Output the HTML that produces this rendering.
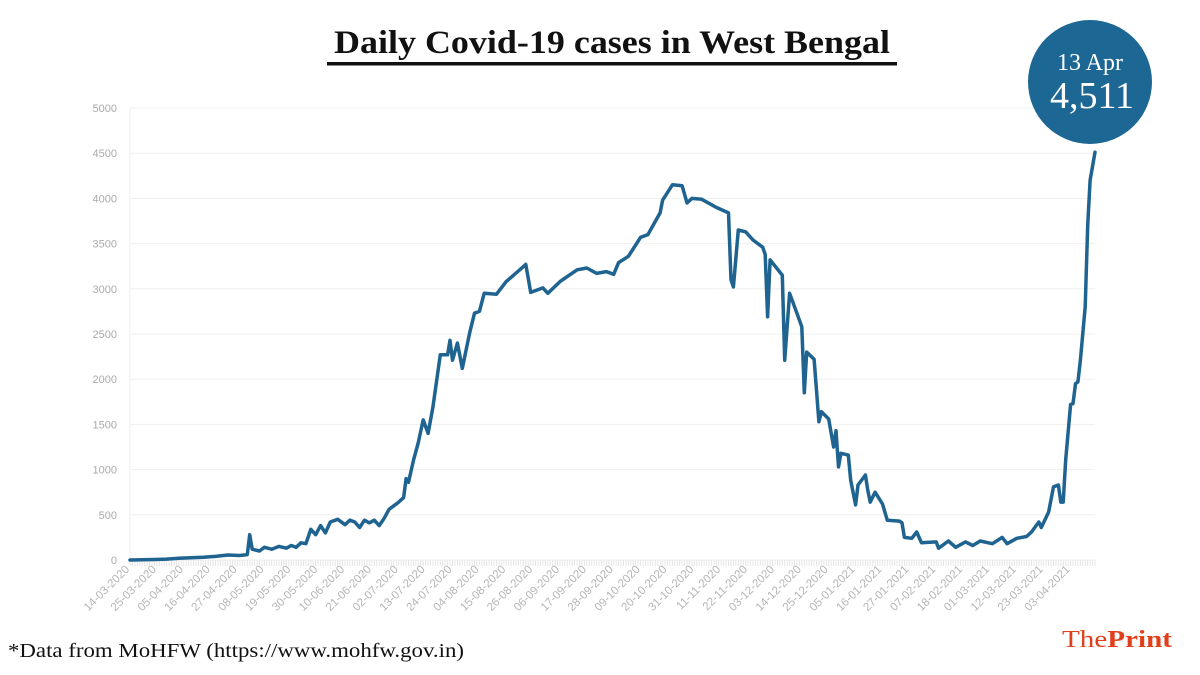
<!DOCTYPE html>
<html><head><meta charset="utf-8"><style>
body{margin:0;background:#fff;}
svg{display:block;font-family:"Liberation Sans",sans-serif;}
</style></head><body>
<svg id="chart" width="1200" height="675" viewBox="0 0 1200 675">
<text x="612" y="53" text-anchor="middle" font-family="Liberation Serif, serif" font-weight="bold" font-size="33" fill="#111" textLength="556" lengthAdjust="spacingAndGlyphs">Daily Covid-19  cases in West Bengal</text>
<rect x="327" y="62" width="570" height="3.5" fill="#111"/>
<g id="grid"></g><g id="yticks"></g><g id="xticks"></g>
<path id="line" fill="none" stroke="#1f6391" stroke-width="3.5" stroke-linejoin="round" stroke-linecap="round"/>
<g>
<circle cx="1090" cy="82" r="62" fill="#1d6794"/>
<text x="1090" y="70" text-anchor="middle" font-family="Liberation Serif, serif" font-size="24" fill="#fff">13 Apr</text>
<text x="1092" y="108" text-anchor="middle" font-family="Liberation Serif, serif" font-size="38" fill="#fff">4,511</text>
</g>
<text x="8" y="657" font-family="Liberation Serif, serif" font-size="20" fill="#111" textLength="456" lengthAdjust="spacingAndGlyphs">*Data from MoHFW (https://www.mohfw.gov.in)</text>
<text x="1062" y="647" font-family="Liberation Serif, serif" font-size="24" fill="#e0401c" textLength="110" lengthAdjust="spacingAndGlyphs">The<tspan font-weight="bold">Print</tspan></text>
</svg>
<script>
const yTicks=[0,500,1000,1500,2000,2500,3000,3500,4000,4500,5000];
const xLabels=["14-03-2020","25-03-2020","05-04-2020","16-04-2020","27-04-2020","08-05-2020","19-05-2020","30-05-2020","10-06-2020","21-06-2020","02-07-2020","13-07-2020","24-07-2020","04-08-2020","15-08-2020","26-08-2020","06-09-2020","17-09-2020","28-09-2020","09-10-2020","20-10-2020","31-10-2020","11-11-2020","22-11-2020","03-12-2020","14-12-2020","25-12-2020","05-01-2021","16-01-2021","27-01-2021","07-02-2021","18-02-2021","01-03-2021","12-03-2021","23-03-2021","03-04-2021"];
const days=[0,5,10,15,20,25,30,35,40,45,48,49,50,53,55,58,61,64,66,68,70,72,74,76,78,80,82,85,88,90,92,94,96,98,100,102,104,106,108,110,112,113,114,116,118,120,122,124,127,130,131,132,134,136,139,141,143,145,150,154,157,162,164,169,171,176,183,187,191,195,198,200,204,209,212,217,218,222,226,228,230,234,240,245,246,247,249,252,255,259,260,261,262,267,268,270,273,275,276,277,280,282,283,286,288,289,290,291,294,295,297,298,301,302,303,305,308,310,315,316,317,320,322,324,330,331,335,338,342,345,348,353,357,359,363,367,369,372,373,376,378,380,381,382,383,385,386,387,388,389,391,392,393,395];
const cases=[0,2,5,10,20,25,30,40,55,50,60,280,120,100,140,120,150,130,160,140,190,180,340,280,380,300,420,450,390,440,420,360,440,410,440,380,460,560,600,640,690,900,860,1100,1300,1550,1400,1690,2270,2270,2430,2210,2400,2120,2510,2730,2750,2950,2940,3080,3150,3270,2960,3010,2950,3080,3210,3230,3170,3190,3160,3290,3360,3570,3600,3840,3980,4150,4140,3950,4000,3990,3900,3840,3100,3020,3650,3630,3540,3460,3380,2690,3320,3150,2210,2950,2730,2580,1850,2300,2220,1530,1640,1560,1250,1430,1030,1180,1160,880,610,830,940,770,640,750,620,440,430,410,250,240,310,190,200,130,210,140,200,160,210,180,250,180,240,260,310,420,360,530,810,830,640,640,1110,1720,1730,1950,1970,2200,2800,3700,4200,4511];
const X0=130,X1=1095,Y0=560,Y1=108,DMAX=395,VMAX=5000;
const xS=d=>X0+(X1-X0)*d/DMAX, yS=v=>Y0-(Y0-Y1)*v/VMAX;
const NS="http://www.w3.org/2000/svg";
function mk(t,a,p){const e=document.createElementNS(NS,t);for(const k in a)e.setAttribute(k,a[k]);p.appendChild(e);return e;}
const grid=document.getElementById('grid'),yt=document.getElementById('yticks'),xt=document.getElementById('xticks');
yTicks.forEach(v=>{
 const l=mk('line',{x1:X0,x2:X1,y1:yS(v),y2:yS(v),stroke:'#efefef','stroke-width':1},grid);
 
 
 const t=mk('text',{x:117,y:yS(v)+4,'text-anchor':'end','font-size':11,fill:'#aaa'},yt);
 t.textContent=v;
 
 
});
mk('line',{x1:X0,x2:X0,y1:Y1,y2:Y0,stroke:'#efefef'},grid);
for(let d=0;d<=DMAX;d++){mk('line',{x1:xS(d),x2:xS(d),y1:Y0,y2:Y0+6,stroke:'#e6e6e6','stroke-width':1},grid);}
xLabels.forEach((s,i)=>{
 const x=xS(i*11);
 const t=mk('text',{x:x,y:Y0+10,'text-anchor':'end','font-size':11.5,fill:'#b5b5b5',transform:`rotate(-45 ${x} ${Y0+10})`},xt);
 t.textContent=s;
 
 
});
document.getElementById('line').setAttribute('d',days.map((d,i)=>(i?'L':'M')+xS(d).toFixed(1)+' '+yS(cases[i]).toFixed(1)).join(' '));
</script>
</body></html>
